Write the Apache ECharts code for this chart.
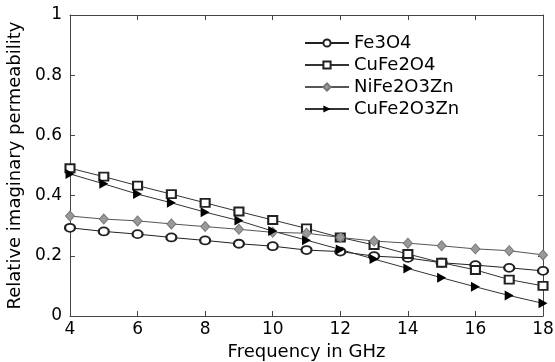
<!DOCTYPE html>
<html><head><meta charset="utf-8">
<script src="https://cdn.jsdelivr.net/npm/echarts@6/dist/echarts.min.js"></script>
<style>html,body{margin:0;padding:0;background:#fff}#c{width:555px;height:362px}</style>
</head><body><div id="c"></div>
<script>
const freq = [4,5,6,7,8,9,10,11,12,13,14,15,16,17,18];
const fe3o4 = [0.293,0.281,0.272,0.261,0.251,0.240,0.232,0.219,0.214,0.199,0.193,0.177,0.169,0.160,0.150];
const cufe2o4 = [0.491,0.463,0.433,0.405,0.376,0.347,0.319,0.291,0.261,0.236,0.206,0.177,0.153,0.121,0.100];
const nife2o3zn = [0.332,0.322,0.316,0.306,0.297,0.288,0.278,0.275,0.261,0.249,0.242,0.233,0.223,0.217,0.203];
const cufe2o3zn = [0.472,0.439,0.405,0.376,0.345,0.317,0.282,0.252,0.221,0.189,0.158,0.127,0.097,0.068,0.042];
const seriesNames = ['Fe3O4','CuFe2O4','NiFe2O3Zn','CuFe2O3Zn'];
const xTicks = [4,6,8,10,12,14,16,18];
const yTicks = [0,0.2,0.4,0.6,0.8,1];

const pairs = a => freq.map((f,i)=>[f,a[i]]);
const FONT = '"DejaVu Sans", Arial, sans-serif';
const axisCol = '#444';
const chart = echarts.init(document.getElementById('c'));
const baseAxis = {
  axisLine:{show:true,onZero:false,lineStyle:{color:axisCol,width:1}},
  axisTick:{show:true,inside:true,length:5,lineStyle:{color:axisCol}},
  splitLine:{show:false}
};
chart.setOption({
  animation:false,
  backgroundColor:'#fff',
  grid:{left:70,right:12,top:15,bottom:46,containLabel:false,outerBoundsMode:'none'},
  legend:{
    orient:'vertical', left:299, top:29, itemWidth:44, itemHeight:9, itemGap:4,
    textStyle:{fontFamily:FONT,fontSize:18,color:'#000'},
    data:seriesNames
  },
  xAxis:[
    Object.assign({type:'value',min:4,max:18,interval:2,position:'bottom',
      name:'Frequency in GHz',nameLocation:'middle',nameGap:24,
      nameTextStyle:{fontFamily:FONT,fontSize:18,color:'#000'},
      axisLabel:{fontFamily:FONT,fontSize:17,color:'#000',margin:5,
        formatter:v=>xTicks.includes(v)?String(v):''}},baseAxis),
    Object.assign({type:'value',min:4,max:18,interval:2,position:'top',axisLabel:{show:false}},baseAxis)
  ],
  yAxis:[
    Object.assign({type:'value',min:0,max:1,interval:0.2,position:'left',
      name:'Relative imaginary permeability',nameLocation:'middle',nameGap:37,
      nameTextStyle:{fontFamily:FONT,fontSize:18,color:'#000'},
      axisLabel:{fontFamily:FONT,fontSize:17,color:'#000',margin:8,
        formatter:v=>{const t=yTicks.find(y=>Math.abs(y-v)<1e-6);return t===undefined?'':(t===0?'0':t===1?'1':t.toFixed(1));}}},baseAxis),
    Object.assign({type:'value',min:0,max:1,interval:0.2,position:'right',axisLabel:{show:false}},baseAxis)
  ],
  series:[
    {name:seriesNames[0],type:'line',data:pairs(fe3o4),symbol:'emptyCircle',symbolSize:[10,8],
      lineStyle:{color:'#222',width:1},itemStyle:{color:'#222',borderWidth:1}},
    {name:seriesNames[1],type:'line',data:pairs(cufe2o4),symbol:'emptyRect',symbolSize:[9,8],
      lineStyle:{color:'#333',width:1},itemStyle:{color:'#222',borderWidth:1}},
    {name:seriesNames[2],type:'line',data:pairs(nife2o3zn),symbol:'diamond',symbolSize:[9,10],
      lineStyle:{color:'#555',width:1},itemStyle:{color:'#999',borderColor:'#777',borderWidth:1}},
    {name:seriesNames[3],type:'line',data:pairs(cufe2o3zn),symbol:'triangle',symbolSize:[10,9],symbolRotate:-90,
      lineStyle:{color:'#333',width:1},itemStyle:{color:'#000'}}
  ]
});
</script></body></html>
